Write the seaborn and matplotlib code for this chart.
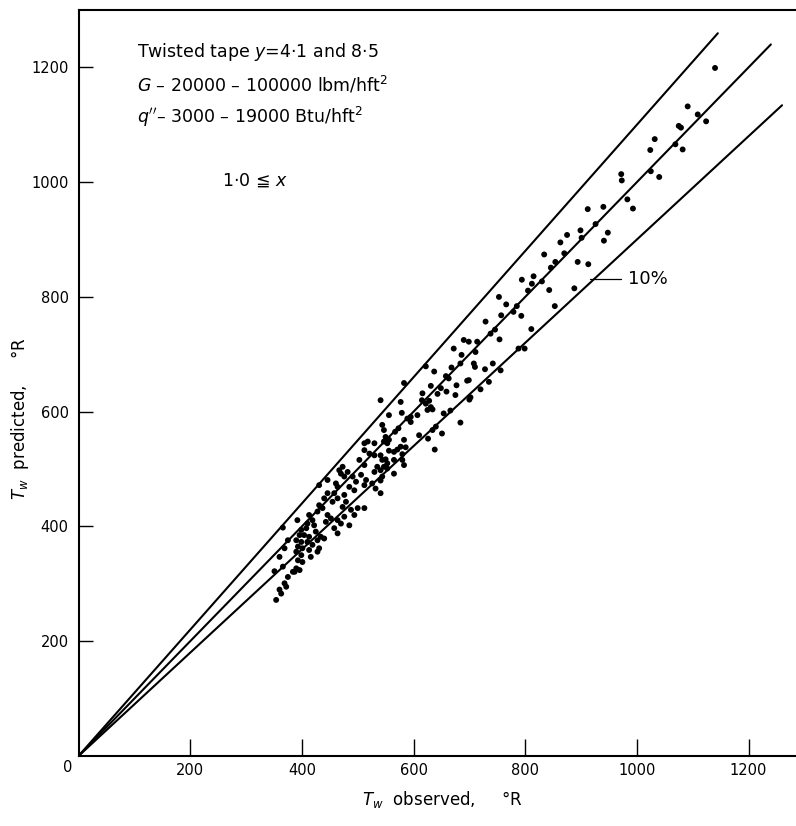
import numpy as np
import pandas as pd
import matplotlib
matplotlib.use("Agg")
import matplotlib.pyplot as plt
import seaborn as sns

# Wall temperature, observed vs predicted (deg R)
t_observed = [
    1140, 1091, 1109, 1124, 1075, 1079, 1069, 1082, 1040, 1032, 1024, 972, 973, 1025,
    912, 940, 983, 993, 926, 899, 875, 901, 863, 948, 941,
    834, 870, 854, 846, 894, 913, 794, 815, 812, 830, 805, 843, 888,
    779, 766, 785, 793, 757, 753, 853, 811, 754, 788, 799, 756,
    729, 746, 738, 714, 699, 711, 708, 710, 742, 728, 699, 735, 720, 702,
    690, 672, 686,
    622, 637, 668, 684, 583, 658, 663, 649, 631, 677, 696,
    616, 643, 659, 541, 577, 615, 622, 628, 625, 634, 631, 675, 700,
    579, 556, 589, 595, 595, 607, 654, 666, 684,
    544, 547, 567, 573, 640, 634, 651, 626,
    550, 556, 547, 553, 583, 586, 577, 610, 638,
    556, 565, 571, 580, 541, 544, 550, 565, 580, 583,
    547, 541, 553, 565, 544, 541,
    518, 530, 521, 530, 512, 553, 503, 512, 535, 530,
    473, 482, 470, 476, 446, 491, 497, 506, 515, 512,
    461, 464, 526, 532, 541, 431, 485, 494, 440, 446,
    458, 464, 455, 476, 479, 473, 500, 512, 488, 494,
    431, 437, 428, 446, 452, 443, 464, 470, 476,
    413, 419, 410, 422, 485, 458, 464, 392,
    399, 408, 396, 404, 413, 425, 434, 428, 440,
    390, 399, 393, 401, 390, 410, 419, 413, 431, 428,
    399, 393, 401, 416, 390, 396, 387,
    363, 375, 369, 384, 366, 360, 369, 375, 351, 354, 360, 372, 366, 512, 467,
]
t_predicted = [
    1199, 1132, 1118, 1106, 1098, 1095, 1066, 1057, 1009, 1075, 1056, 1014, 1003, 1019,
    953, 957, 970, 954, 927, 916, 908, 903, 895, 912, 898,
    874, 876, 861, 851, 861, 857, 830, 836, 823, 827, 811, 812, 815,
    774, 787, 784, 767, 768, 800, 784, 744, 726, 710, 710, 672,
    757, 743, 736, 722, 722, 704, 684, 678, 684, 674, 655, 652, 639, 625,
    725, 710, 699,
    679, 670, 677, 684, 650, 662, 658, 641, 645, 646, 654,
    632, 631, 635, 620, 617, 620, 614, 619, 603, 604, 608, 629, 621,
    598, 594, 588, 591, 582, 594, 597, 602, 581,
    577, 568, 565, 571, 574, 568, 562, 553,
    556, 551, 548, 545, 551, 538, 539, 559, 534,
    532, 530, 534, 526, 524, 516, 517, 516, 516, 507,
    504, 498, 501, 492, 487, 480,
    548, 545, 527, 524, 533, 510, 516, 507, 504, 495,
    504, 495, 492, 487, 481, 487, 478, 490, 481, 472,
    475, 469, 475, 466, 458, 472, 469, 463, 449, 458,
    458, 449, 443, 455, 443, 434, 432, 432, 429, 420,
    437, 432, 426, 420, 414, 408, 411, 405, 417,
    420, 411, 405, 402, 402, 397, 388, 411,
    394, 397, 385, 385, 382, 391, 382, 376, 379,
    376, 373, 365, 362, 356, 373, 368, 359, 362, 356,
    350, 341, 338, 347, 327, 324, 321,
    283, 312, 301, 321, 330, 347, 362, 376, 322, 272, 290, 295, 398, 545, 498,
]

# Reference lines: predicted = ratio * observed (+10 %, exact, -10 %)
band_ratio = [1.1, 1.0, 0.9]
band_end_x = [1145, 1240, 1260]

x_ticks = [200, 400, 600, 800, 1000, 1200]
y_ticks = [200, 400, 600, 800, 1000, 1200]

df = pd.DataFrame({"observed": t_observed, "predicted": t_predicted})

sns.set_theme(style="ticks")
plt.rcParams["font.family"] = ["DejaVu Sans"]
plt.rcParams["mathtext.fontset"] = "dejavusans"
plt.rcParams["text.color"] = "black"
plt.rcParams["axes.labelcolor"] = "black"

W, H = 796, 826
fig = plt.figure(figsize=(W / 100, H / 100), dpi=100)
ax = fig.add_axes([78.5 / W, 70 / H, (W - 78.5) / W, 746 / H])

for r, xe in zip(band_ratio, band_end_x):
    xs = np.array([0.0, xe])
    sns.lineplot(x=xs, y=r * xs, color="black", lw=1.5, ax=ax, legend=False)

sns.scatterplot(data=df, x="observed", y="predicted", color="black", s=18,
                edgecolor="none", ax=ax, legend=False, zorder=3)

ax.set_xlim(0, 1285)
ax.set_ylim(0, 1300)
ax.set_xticks(x_ticks)
ax.set_yticks(y_ticks)
ax.set_xticklabels([str(v) for v in x_ticks])
ax.set_yticklabels([str(v) for v in y_ticks])
ax.tick_params(axis="x", direction="in", length=12, width=1, pad=5,
               labelsize=10.5, colors="black")
ax.tick_params(axis="y", direction="in", length=10, width=1, pad=7,
               labelsize=10.5, colors="black")
ax.set_xlabel("")
ax.set_ylabel("")
for side in ["left", "bottom", "top"]:
    ax.spines[side].set_linewidth(1.5)
    ax.spines[side].set_color("black")
ax.spines["right"].set_visible(False)

# corner zero
fig.text(68 / W, 1 - 768 / H, "0", fontsize=10.5, ha="center", va="center",
         color="black")

# "10%" band label with leader
ax.plot([916, 972], [832, 832], color="black", lw=0.9)
ax.text(985, 832, "10%", fontsize=13, ha="left", va="center", color="black")

# condition notes
note_kw = dict(fontsize=12.5, ha="left", va="center", color="black")
fig.text(137 / W, 1 - 52 / H, "Twisted tape $y$=4·1 and 8·5", **note_kw)
fig.text(137 / W, 1 - 85 / H, "$G$ – 20000 – 100000 lbm/hft$^{2}$", **note_kw)
fig.text(137 / W, 1 - 117 / H, "$q''$– 3000 – 19000 Btu/hft$^{2}$", **note_kw)
fig.text(222 / W, 1 - 181 / H, "1·0 ≦ $x$", **note_kw)

# axis titles
fig.text(442 / W, 1 - 800 / H, "$T_w$  observed,     °R", fontsize=12,
         ha="center", va="center", color="black")
fig.text(20 / W, 1 - 418 / H, "$T_w$  predicted,     °R", fontsize=12,
         ha="center", va="center", rotation=90, color="black")

fig.savefig("out.png", dpi=100, facecolor="white")
